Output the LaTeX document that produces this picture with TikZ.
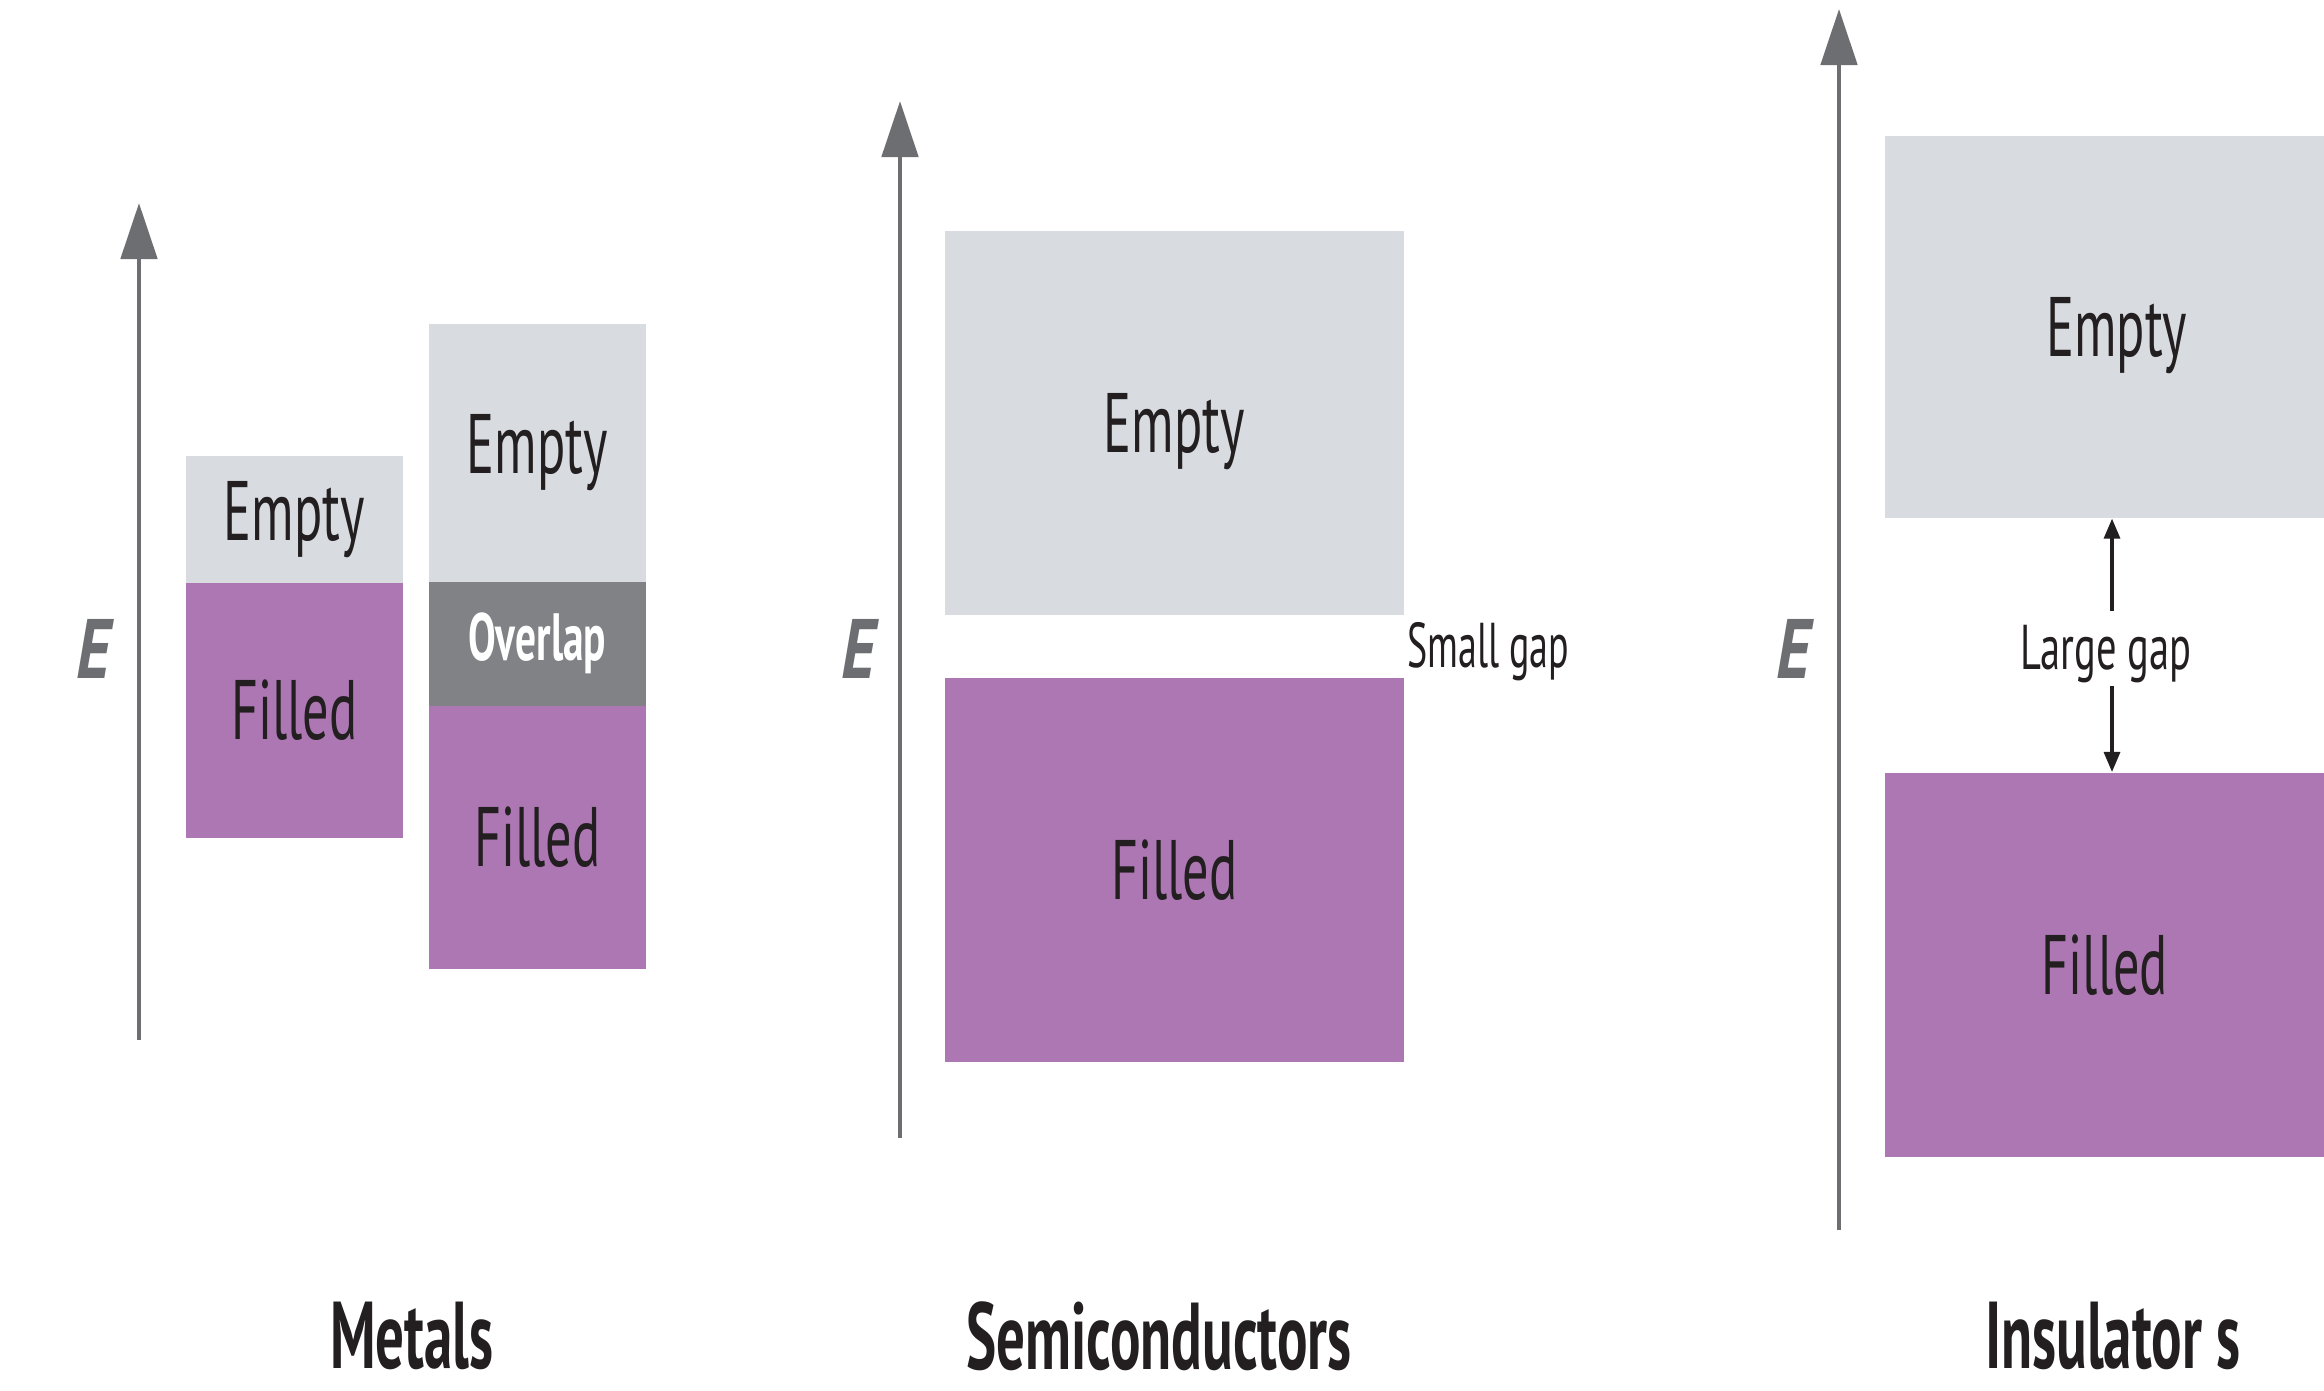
\documentclass[tikz,border=0pt]{standalone}
\usepackage{fontspec}
\setmainfont{PT Sans}
\usetikzlibrary{arrows.meta}
\definecolor{emptyc}{HTML}{D8DCE1}
\definecolor{filledc}{HTML}{AC77B2}
\definecolor{overc}{HTML}{818285}
\definecolor{axisc}{HTML}{6D6E71}
\definecolor{txtc}{HTML}{231F20}
\newcommand\narrow[2]{\scalebox{#1}[1]{#2}}
\newcommand\lowered[2]{\raisebox{#1}[0pt][0pt]{#2}}
\tikzset{
  band/.style={inner sep=0pt, anchor=north west, text=txtc, font=\fontsize{24}{24}\selectfont},
  emptyband/.style={band, fill=emptyc},
  filledband/.style={band, fill=filledc},
  overband/.style={band, fill=overc, text=white, font=\bfseries\fontsize{19}{19}\selectfont},
  axis/.style={draw=axisc, line width=1.4pt, -{Triangle[width=0.36cm,length=0.56cm]}},
  elabel/.style={text=axisc, font=\bfseries\itshape\fontsize{24}{24}\selectfont},
  title/.style={text=txtc, inner sep=0pt, font=\bfseries\fontsize{27}{27}\selectfont},
  gaplabel/.style={text=txtc, inner sep=1pt, font=\fontsize{18}{18}\selectfont},
  gaparrow/.style={draw=txtc, line width=0.9pt, -{Triangle[width=0.16cm,length=0.2cm]}}
}
\begin{document}
\begin{tikzpicture}[x=0.01cm,y=-0.01cm]
\useasboundingbox (0,0) rectangle (2324,1391);
% ---- Metals ----
\coordinate (m-bot) at (139,1040);
\coordinate (m-top) at (139,203);
\draw[axis] (m-bot) -- (m-top);
\node[elabel] (m-E) at (93,649) {\narrow{0.8}{E}};
\node[emptyband, minimum width=2.17cm, minimum height=1.27cm] (m1e) at (185,455) {\narrow{0.62}{Empty}};
\node[filledband, minimum width=2.17cm, minimum height=2.55cm] (m1f) at (185,582) {\narrow{0.62}{Filled}};
\node[emptyband, minimum width=2.17cm, minimum height=2.58cm] (m2e) at (428,323) {\narrow{0.62}{Empty}};
\node[overband, minimum width=2.17cm, minimum height=1.24cm] (m2o) at (428,581) {\narrow{0.62}{Overlap}};
\node[filledband, minimum width=2.17cm, minimum height=2.63cm] (m2f) at (428,705) {\narrow{0.62}{Filled}};
\node[title] (m-title) at (412,1336) {\narrow{0.6}{Metals}};
% ---- Semiconductors ----
\coordinate (s-bot) at (900,1138);
\coordinate (s-top) at (900,101);
\draw[axis] (s-bot) -- (s-top);
\node[elabel] (s-E) at (858,649) {\narrow{0.8}{E}};
\node[emptyband, minimum width=4.59cm, minimum height=3.84cm] (se) at (944,230) {\lowered{-0.3cm}{\narrow{0.62}{Empty}}};
\node[filledband, minimum width=4.59cm, minimum height=3.84cm] (sf) at (944,677) {\narrow{0.62}{Filled}};
\node[gaplabel, anchor=west] (sg) at (1403,652) {\narrow{0.6}{Small gap}};
\node[title] (s-title) at (1159,1336) {\narrow{0.6}{Semiconductors}};
% ---- Insulators ----
\coordinate (i-bot) at (1839,1230);
\coordinate (i-top) at (1839,9);
\draw[axis] (i-bot) -- (i-top);
\node[elabel] (i-E) at (1793,649) {\narrow{0.8}{E}};
\node[emptyband, minimum width=4.40cm, minimum height=3.82cm] (ie) at (1884,135) {\hspace*{0.24cm}\lowered{-0.3cm}{\narrow{0.62}{Empty}}};
\node[filledband, minimum width=4.40cm, minimum height=3.84cm] (if) at (1884,772) {\narrow{0.62}{Filled}};
\node[gaplabel] (lg) at (2106,654) {\narrow{0.64}{Large gap}};
\coordinate (gu) at (2112,611);
\coordinate (gd) at (2112,686);
\draw[gaparrow] (gu) -- (gu |- ie.south);
\draw[gaparrow] (gd) -- (gd |- if.north);
\node[title] (i-title) at (2113,1336) {\narrow{0.6}{Insulator s}};
\end{tikzpicture}
\end{document}
